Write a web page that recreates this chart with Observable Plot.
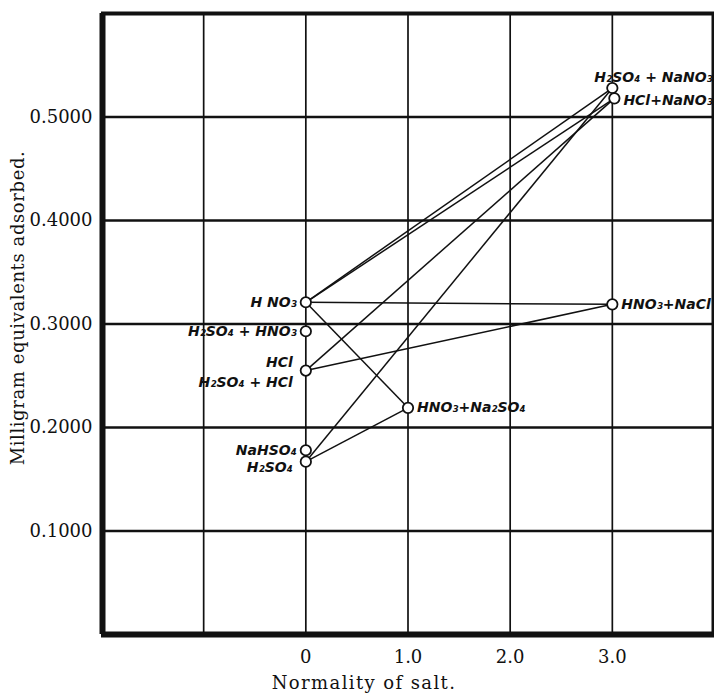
<!DOCTYPE html>
<html>
<head>
<meta charset="utf-8">
<script src="https://cdn.jsdelivr.net/npm/d3@7"></script>
<script src="https://cdn.jsdelivr.net/npm/@observablehq/plot@0.6"></script>
<style>
  html, body { margin: 0; padding: 0; background: #fff; }
</style>
</head>
<body>
<div id="chart"></div>
<script>
// Data
const names = ["H NO₃", "H₂SO₄ + HNO₃", "HCl\nH₂SO₄ + HCl", "NaHSO₄", "H₂SO₄",
               "HNO₃+Na₂SO₄", "HNO₃+NaCl", "H₂SO₄ + NaNO₃", "HCl+NaNO₃"];
const normality = [0, 0, 0, 0, 0, 1.0, 3.0, 3.0, 3.02];
const adsorbed  = [0.321, 0.293, 0.255, 0.178, 0.167, 0.219, 0.319, 0.528, 0.518];
const linkFrom = [0, 0, 0, 0, 2, 2, 4, 4];
const linkTo   = [7, 8, 6, 5, 8, 6, 7, 5];
const xTicks = [0, 1, 2, 3];
const xTickLabels = ["0", "1.0", "2.0", "3.0"];
const yTicks = [0.1, 0.2, 0.3, 0.4, 0.5];
const yTickLabels = ["0.1000", "0.2000", "0.3000", "0.4000", "0.5000"];
const xGrid = [-1, 0, 1, 2, 3];
const xTitle = "Normality of salt.";
const yTitle = "Milligram equivalents adsorbed.";

const pts = names.map((n, i) => ({name: n, x: normality[i], y: adsorbed[i], i}));
const links = linkFrom.map((f, k) => ({x1: normality[f], y1: adsorbed[f], x2: normality[linkTo[k]], y2: adsorbed[linkTo[k]]}));

const labelFont = {fontFamily: "DejaVu Sans", fontWeight: "bold", fontStyle: "italic", fontSize: 14, fill: "#111"};
const serif = {fontFamily: "DejaVu Serif", fontSize: 18, fill: "#111"};
const pick = idx => pts.filter(p => idx.includes(p.i));

const chart = Plot.plot({
  width: 714,
  height: 695,
  marginLeft: 101,
  marginRight: 0,
  marginTop: 13,
  marginBottom: 61,
  x: {domain: [-2, 4]},
  y: {domain: [0, 0.6]},
  style: {fontFamily: "DejaVu Serif", fontSize: "18px", background: "#fff", color: "#111", overflow: "visible"},
  marks: [
    // grid
    Plot.ruleX(xGrid, {stroke: "#111", strokeWidth: 1.7}),
    Plot.ruleY(yTicks, {stroke: "#111", strokeWidth: 2.4}),
    // frame
    Plot.ruleX([-2], {stroke: "#111", strokeWidth: 6, dx: 1}),
    Plot.ruleY([0], {stroke: "#111", strokeWidth: 6}),
    Plot.ruleY([0.6], {stroke: "#111", strokeWidth: 4}),
    Plot.ruleX([4], {stroke: "#111", strokeWidth: 3, dx: -1.5}),
    // axes
    Plot.axisX(xTicks, {tickSize: 0, tickPadding: 16, tickFormat: d => xTickLabels[xTicks.indexOf(d)], label: null, ...serif}),
    Plot.axisY(yTicks, {tickSize: 0, tickPadding: 9, tickFormat: d => yTickLabels[yTicks.indexOf(d)], label: null, ...serif}),
    Plot.text([yTitle], {frameAnchor: "left", textAnchor: "middle", lineAnchor: "middle", rotate: -90, dx: -83, dy: -16, ...serif}),
    Plot.text([xTitle], {frameAnchor: "bottom", textAnchor: "middle", lineAnchor: "middle", dx: -44, dy: 49, ...serif}),
    // connecting lines
    Plot.link(links, {x1: "x1", y1: "y1", x2: "x2", y2: "y2", stroke: "#111", strokeWidth: 1.5}),
    // points
    Plot.dot(pts, {x: "x", y: "y", r: 5.2, fill: "#fff", stroke: "#111", strokeWidth: 1.8}),
    // labels
    Plot.text(pick([0, 1, 3]), {x: "x", y: "y", text: "name", textAnchor: "end", dx: -9, ...labelFont}),
    Plot.text(pick([2]), {x: "x", y: "y", text: "name", textAnchor: "end", dx: -13, lineHeight: 1.4, ...labelFont}),
    Plot.text(pick([4]), {x: "x", y: "y", text: "name", textAnchor: "end", dx: -13, dy: 6, ...labelFont}),
    Plot.text(pick([5, 6]), {x: "x", y: "y", text: "name", textAnchor: "start", dx: 9, ...labelFont}),
    Plot.text(pick([8]), {x: "x", y: "y", text: "name", textAnchor: "start", dx: 9, dy: 2, ...labelFont}),
    Plot.text(pick([7]), {x: "x", y: "y", text: "name", textAnchor: "start", dx: -18, dy: -11, ...labelFont})
  ]
});
// letter spacing to mimic the wide original typeface
d3.select(chart).selectAll("text").filter(function() { return this.textContent === xTitle; }).attr("letter-spacing", 1.4);
d3.select(chart).selectAll("text").filter(function() { return this.textContent === yTitle; }).attr("letter-spacing", 0.6);
document.getElementById("chart").appendChild(chart);
</script>
</body>
</html>
